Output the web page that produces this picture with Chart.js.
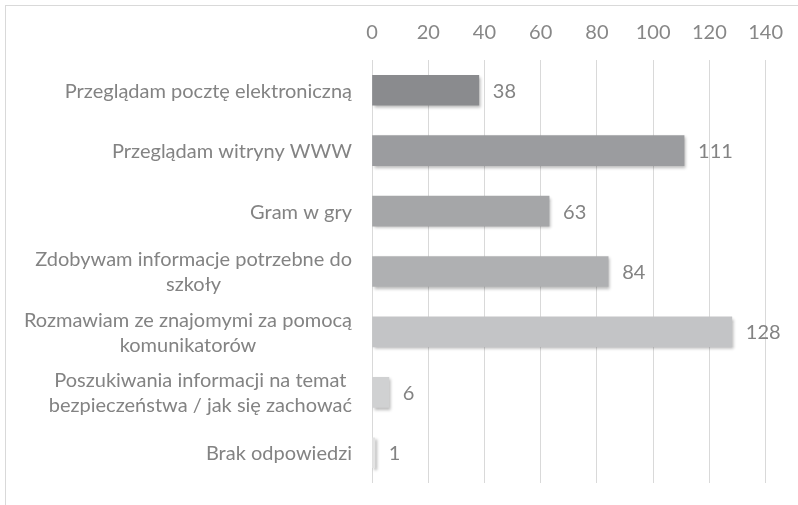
<!DOCTYPE html>
<html>
<head>
<meta charset="utf-8">
<script src="https://cdn.jsdelivr.net/npm/chart.js@4/dist/chart.umd.min.js"></script>
<style>
  html, body { margin: 0; padding: 0; background: #fff; }
  #wrap { position: relative; width: 798px; height: 505px; }
  #frame { position: absolute; left: 5px; top: 5px; right: 0; bottom: 0;
           border-left: 1px solid #d9d9d9; border-top: 1px solid #d9d9d9; }
  canvas { position: absolute; left: 0; top: 0; }
</style>
</head>
<body>
<div id="wrap">
  <div id="frame"></div>
  <canvas id="bar-chart" width="798" height="505"></canvas>
</div>
<script>
var categories = [
  ['Przeglądam pocztę elektroniczną'],
  ['Przeglądam witryny WWW'],
  ['Gram w gry'],
  ['Zdobywam informacje potrzebne do', 'szkoły'],
  ['Rozmawiam ze znajomymi za pomocą', 'komunikatorów'],
  ['Poszukiwania informacji na temat', 'bezpieczeństwa / jak się zachować'],
  ['Brak odpowiedzi']
];
var answers = [38, 111, 63, 84, 128, 6, 1];
var xTicks = [0, 20, 40, 60, 80, 100, 120, 140];
var barColors = ['#8a8b8e', '#9b9c9f', '#a5a6a8', '#afb0b2', '#c3c4c6', '#d0d1d2', '#e3e3e3'];

var FONT = 'Lato, "Open Sans", sans-serif';
var TEXT = '#838383';

// soft shadow under the bars, like the office chart
var barShadow = {
  id: 'barShadow',
  beforeDatasetsDraw(chart) {
    var ctx = chart.ctx;
    ctx.save();
    ctx.shadowColor = 'rgba(0,0,0,0.28)';
    ctx.shadowBlur = 3;
    ctx.shadowOffsetX = 2;
    ctx.shadowOffsetY = 2;
  },
  afterDatasetsDraw(chart) {
    chart.ctx.restore();
  }
};

// category labels: block right aligned, lines centred inside the block
var categoryLabels = {
  id: 'categoryLabels',
  afterDraw(chart) {
    var ctx = chart.ctx;
    var y = chart.scales.y;
    var right = chart.chartArea.left - 20;
    ctx.save();
    ctx.font = '20px ' + FONT;
    ctx.fillStyle = TEXT;
    ctx.textBaseline = 'middle';
    ctx.textAlign = 'center';
    categories.forEach(function (lines, i) {
      var w = 0;
      lines.forEach(function (l) { w = Math.max(w, ctx.measureText(l).width); });
      var cx = right - w / 2;
      var cy = y.getPixelForValue(i);
      lines.forEach(function (l, j) {
        ctx.fillText(l, cx, cy + (j - (lines.length - 1) / 2) * 25 + 1);
      });
    });
    ctx.restore();
  }
};

// value labels after the bar ends
var valueLabels = {
  id: 'valueLabels',
  afterDatasetsDraw(chart) {
    var ctx = chart.ctx;
    var meta = chart.getDatasetMeta(0);
    ctx.save();
    ctx.font = '20px ' + FONT;
    ctx.fillStyle = TEXT;
    ctx.textBaseline = 'middle';
    ctx.textAlign = 'left';
    meta.data.forEach(function (bar, i) {
      ctx.fillText(String(answers[i]), bar.x + 14, bar.y + 1);
    });
    ctx.restore();
  }
};

var myBarChart = new Chart('bar-chart', {
  type: 'bar',
  data: {
    labels: categories,
    datasets: [{
      data: answers,
      backgroundColor: barColors,
      borderWidth: 0,
      barThickness: 30
    }]
  },
  options: {
    indexAxis: 'y',
    responsive: false,
    animation: false,
    layout: { padding: { left: 0, right: 31, top: 0, bottom: 22 } },
    plugins: {
      legend: { display: false },
      tooltip: { enabled: false }
    },
    scales: {
      x: {
        position: 'top',
        min: 0,
        max: 140,
        afterBuildTicks(scale) {
          scale.ticks = xTicks.map(function (v) { return { value: v }; });
        },
        afterFit(scale) { scale.height = 60; },
        grid: { color: '#d9d9d9', lineWidth: 1, drawTicks: false },
        border: { display: false },
        ticks: {
          color: '#878787',
          font: { family: FONT, size: 20 },
          padding: 15,
          maxRotation: 0
        }
      },
      y: {
        afterFit(scale) { scale.width = 372; },
        grid: { display: false },
        border: { display: false },
        ticks: { display: false }
      }
    }
  },
  plugins: [barShadow, valueLabels, categoryLabels]
});
</script>
</body>
</html>
